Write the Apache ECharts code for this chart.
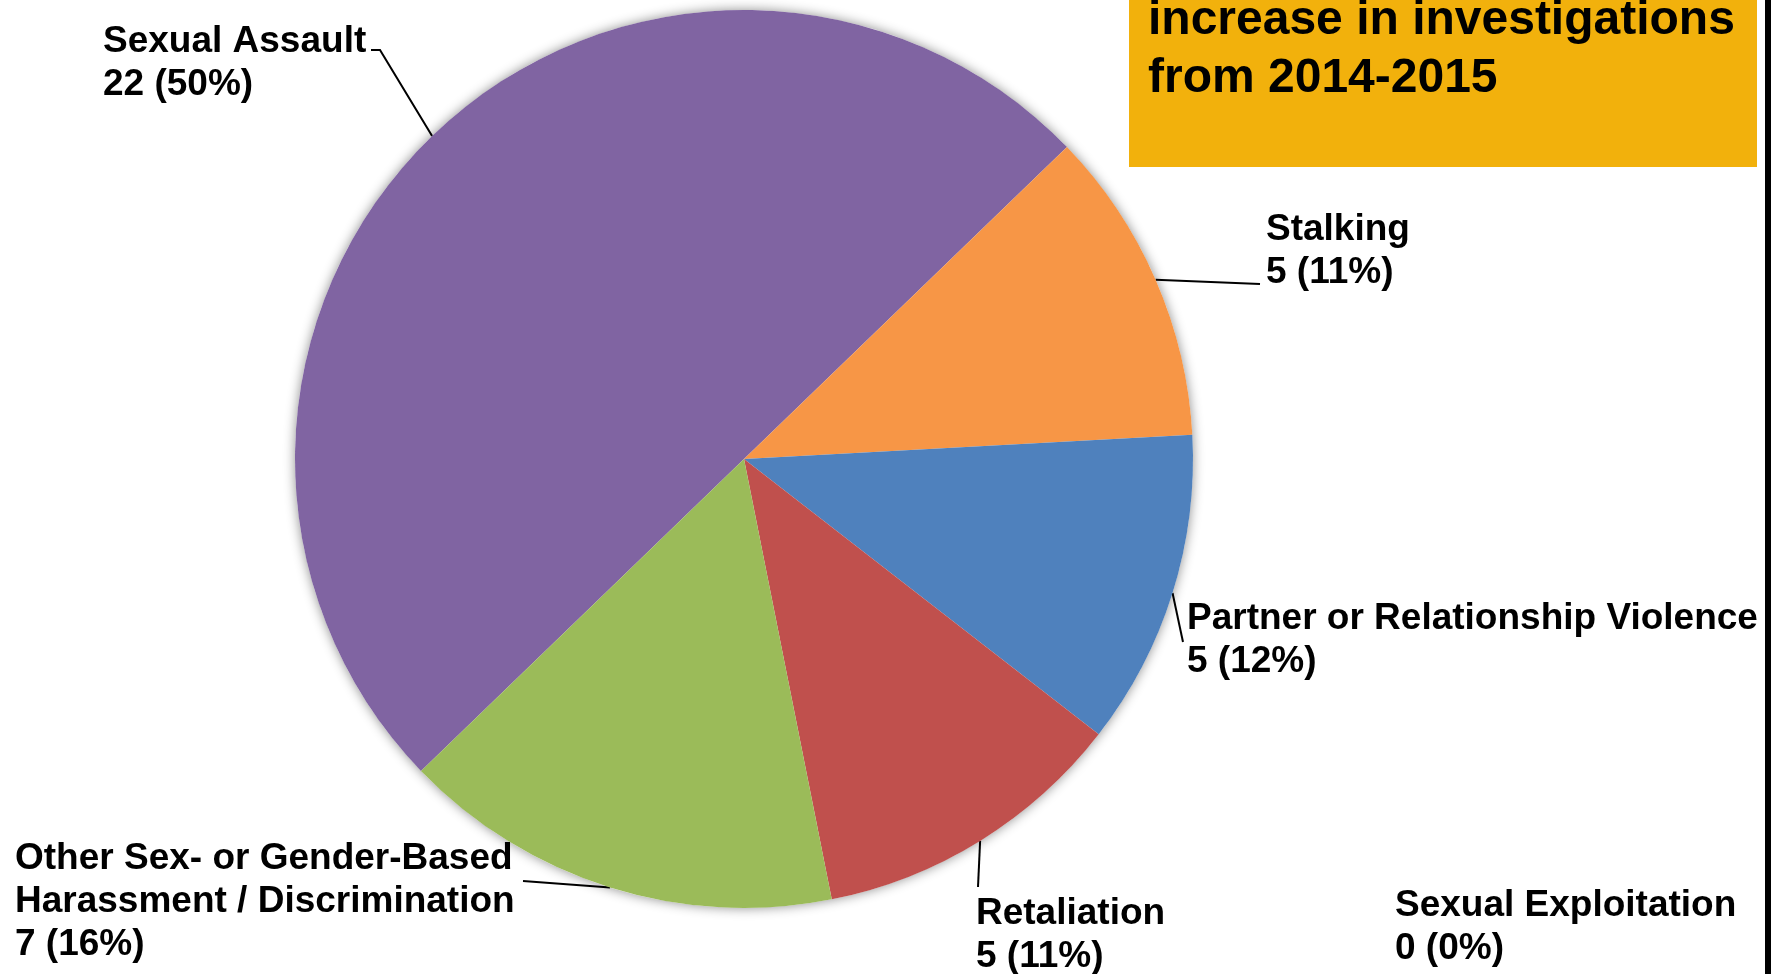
<!DOCTYPE html>
<html><head><meta charset="utf-8">
<script src="https://cdn.jsdelivr.net/npm/echarts@6/dist/echarts.min.js"></script>
<style>html,body{margin:0;padding:0;background:#fff}#c{width:1781px;height:974px}</style>
</head><body><div id="c"></div>
<script>
// ---- data ----
const CATEGORIES = ['Sexual Assault', 'Stalking', 'Partner or Relationship Violence', 'Retaliation',
  'Other Sex- or Gender-Based Harassment / Discrimination', 'Sexual Exploitation'];
const COUNTS = [22, 5, 5, 5, 7, 0];
const PERCENT_LABELS = [50, 11, 12, 11, 16, 0];
const BOX_LINES = ['increase in investigations', 'from 2014-2015'];

// ---- styling / layout ----
const COLORS = ['#8064A2', '#F79646', '#4F81BD', '#C0504D', '#9BBB59', '#4BACC6'];
const FONT = '"Liberation Sans", Arial, sans-serif';
const LABEL_LAYOUT = [
  { x: 103, y: 20, line: [[277, 30], [268, 30]] },
  { x: 1266, y: 208, line: [[-6, 76]] },
  { x: 1187, y: 597, line: [[-4, 45]] },
  { x: 976, y: 892, line: [[2, -5]] },
  { x: 15, y: 837, line: [[508, 44]] },
  { x: 1395, y: 884, line: null }
];
const CENTER = [744, 459];
const RADIUS = 449;

const chart = echarts.init(document.getElementById('c'), null, { renderer: 'canvas' });
const total = COUNTS.reduce((a, b) => a + b, 0);

chart.setOption({
  animation: false,
  backgroundColor: '#fff',
  graphic: [
    { type: 'rect', z: 10, shape: { x: 1129, y: -20, width: 628, height: 187 }, style: { fill: '#F2B10C' } },
    { type: 'text', z: 11, x: 1148, y: -8, style: { text: BOX_LINES.join('\n'), fontFamily: FONT, fontWeight: 'bold', fontSize: 48, lineHeight: 58, fill: '#000', verticalAlign: 'top', align: 'left' } },
    { type: 'rect', z: 10, shape: { x: 1765, y: 0, width: 6, height: 974 }, style: { fill: '#000' } }
  ],
  series: [
    {
      type: 'pie', silent: true, z: 1, center: CENTER, radius: RADIUS,
      label: { show: false }, labelLine: { show: false },
      data: [{ value: total, itemStyle: { color: '#fff', shadowBlur: 12, shadowColor: 'rgba(0,0,0,0.45)' } }]
    },
    {
      type: 'pie', z: 2, center: CENTER, radius: RADIUS, startAngle: 224, clockwise: true,
      avoidLabelOverlap: false,
      itemStyle: { borderWidth: 0 },
      label: {
        show: true, position: 'outside', color: '#000', fontFamily: FONT, fontWeight: 'bold',
        fontSize: 37, lineHeight: 43,
        formatter: p => p.name + '\n' + p.value + ' (' + PERCENT_LABELS[p.dataIndex] + '%)'
      },
      labelLine: { show: true, length: 10, length2: 10, smooth: false, lineStyle: { color: '#000', width: 2 } },
      labelLayout: function (p) {
        const L = LABEL_LAYOUT[p.dataIndex];
        const res = { x: L.x, y: L.y, align: 'left', verticalAlign: 'top' };
        if (L.line && p.labelLinePoints && p.labelLinePoints.length) {
          const pts = [p.labelLinePoints[0].slice()];
          L.line.forEach(o => pts.push([L.x + o[0], L.y + o[1]]));
          while (pts.length < 3) pts.push(pts[pts.length - 1].slice());
          res.labelLinePoints = pts;
        }
        return res;
      },
      data: CATEGORIES.map((name, i) => {
        const d = { name: name, value: COUNTS[i], itemStyle: { color: COLORS[i] } };
        if (i === 4) d.label = { width: 530, overflow: 'break' };
        if (!LABEL_LAYOUT[i].line) d.labelLine = { show: false };
        return d;
      })
    }
  ]
});
</script>
</body></html>
